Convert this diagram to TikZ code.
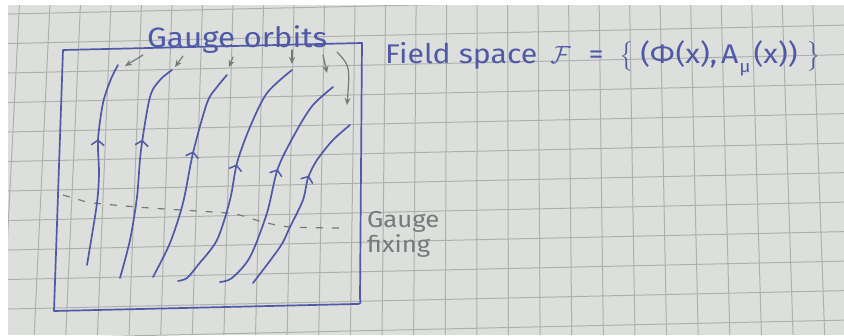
\documentclass[tikz,border=0pt]{standalone}
\usepackage{fontspec}
\usepackage{amsmath}
\usetikzlibrary{arrows.meta,decorations.markings}
\setmainfont{Fira Sans}
\newfontfamily\handfont[FakeStretch=1.12]{Fira Sans}
\definecolor{paper}{HTML}{DCDFDB}
\definecolor{gridgray}{HTML}{ADB1AE}
\definecolor{ink}{HTML}{5059A8}
\definecolor{pencil}{HTML}{767A78}
\tikzset{
  paperline/.style={draw=gridgray, line width=1pt},
  inkline/.style={draw=ink, line width=1.7pt, line cap=round, line join=round},
  orbit/.style={inkline, postaction={decorate, decoration={markings,
      mark=at position #1 with {\arrow{Straight Barb[length=5pt,width=13pt,line width=1.5pt]}}}}},
  pencilarrow/.style={draw=pencil, line width=1.2pt, line cap=round, -{Stealth[length=7pt,width=6pt]}},
  gaugeslice/.style={draw=pencil, line width=1.2pt, dash pattern=on 7pt off 9pt},
  inktext/.style={text=ink, inner sep=0pt, font=\handfont\fontsize{27}{30}\selectfont},
  penciltext/.style={text=pencil, inner sep=0pt, align=left, font=\handfont\fontsize{23}{25}\selectfont},
}
\begin{document}
\begin{tikzpicture}[x=1pt, y=-1pt]
  \useasboundingbox (0,0) rectangle (844,335);
  \fill[white] (0,0) rectangle (844,335);
  \begin{scope}
    \clip (8,5) rectangle (844,335);
    \fill[paper] (8,5) rectangle (844,335);
    \foreach \k in {-20,...,6} {
      \pgfmathsetmacro{\xm}{632+31*\k}
      \pgfmathsetmacro{\xa}{\xm-0.0162*(\xm-484)}
      \pgfmathsetmacro{\xb}{\xm+0.01998*(\xm-484)}
      \draw[paperline] (\xa,0) -- (\xb,335);
    }
    \foreach \j in {-6,...,5} {
      \pgfmathsetmacro{\ya}{178+29.5*\j+0.022*600}
      \pgfmathsetmacro{\yb}{178+29.5*\j-0.022*244}
      \draw[paperline] (0,\ya) -- (844,\yb);
    }
  \end{scope}

  \draw[inkline] (63,50) -- (362,43) -- (360,298) .. controls (361,304) .. (355,304) -- (54,311) -- cycle;

  \draw[gaugeslice] plot[smooth] coordinates {(63,195) (80,200) (93,203) (150,208) (227,213) (243,216) (263,222) (290,227) (340,228)};

  \draw[orbit=0.62] plot[smooth] coordinates {(87,265) (90,247) (97,203) (99,173) (98,140) (103,103) (111,79) (118,65)};
  \draw[orbit=0.64] plot[smooth] coordinates {(120,278) (130,240) (137,197) (141,150) (150,97) (160,80) (172,70)};
  \draw[orbit=0.61] plot[smooth] coordinates {(153,277) (170,243) (183,203) (193,153) (207,103) (217,87) (227,75)};
  \draw[orbit=0.55] plot[smooth] coordinates {(178,281) (187,278) (198,265) (217,240) (230,200) (237,163) (250,127) (267,93) (292,70)};
  \draw[orbit=0.57] plot[smooth] coordinates {(220,282) (232,278) (250,257) (267,213) (278,168) (297,130) (313,105) (333,87)};
  \draw[orbit=0.65] plot[smooth] coordinates {(253,283) (280,247) (290,227) (303,200) (308,178) (317,160) (333,140) (350,125)};

  \node[inktext, anchor=base west] (orbits) at (147,47) {\fontsize{28}{30}\selectfont Gauge orbits};
  \node[inktext, anchor=base west] (fieldspace) at (385,63)
    {Field space\hspace{13pt}$\mathcal{F}$\hspace{18pt}=\hspace{16pt}$\bigl\{$\hspace{6pt}(Φ\hspace{1pt}(x),\hspace{4pt}A\hspace{1pt}\raisebox{-0.35em}{\fontsize{17}{17}\selectfont μ}\hspace{3pt}(x))\hspace{9pt}$\bigr\}$};
  \node[penciltext, anchor=north west] (fixing) at (367,211) {Gauge\\fixing};

  \foreach \sx/\sy/\tx/\ty [count=\i] in {143/55/125/66, 183/56/175/67, 233/57/229/67, 292/50/292/64, 323/55/327/73, 337/52/347/105} {
    \coordinate (g\i) at (\sx,\sy);
    \coordinate (h\i) at (\tx,\ty);
  }
  \foreach \i in {1,...,5} {
    \draw[pencilarrow] (g\i) -- (h\i);
  }
  \draw[pencilarrow] (g6) .. controls (350,66) .. (h6);
\end{tikzpicture}
\end{document}
